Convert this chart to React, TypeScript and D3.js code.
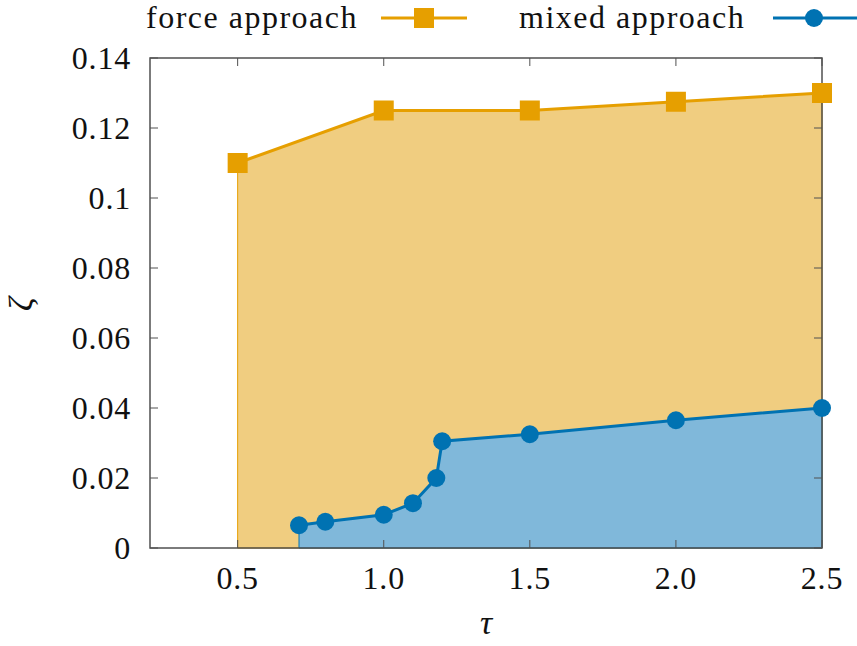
import React from "react";
import * as d3 from "d3";

const forceTau = [0.5, 1.0, 1.5, 2.0, 2.5];
const forceZeta = [0.11, 0.125, 0.125, 0.1275, 0.13];
const mixedTau = [0.71, 0.8, 1.0, 1.1, 1.18, 1.2, 1.5, 2.0, 2.5];
const mixedZeta = [0.0065, 0.0075, 0.0095, 0.0128, 0.02, 0.0305, 0.0325, 0.0365, 0.04];
const xTicks = [0.5, 1.0, 1.5, 2.0, 2.5];
const xTickLabels = ["0.5", "1.0", "1.5", "2.0", "2.5"];
const yTicks = [0, 0.02, 0.04, 0.06, 0.08, 0.1, 0.12, 0.14];
const yTickLabels = ["0", "0.02", "0.04", "0.06", "0.08", "0.1", "0.12", "0.14"];
const seriesNames = ["force approach", "mixed approach"];

const W = 857, H = 646;
const L = 150, R = 822, T = 58, B = 548;
const FONT = "'Liberation Serif', 'DejaVu Serif', serif";
const ORANGE = "#e69f00", ORANGE_FILL = "#f0cd80";
const BLUE = "#0072b2", BLUE_FILL = "#80b8da";

export default function App() {
  const x = d3.scaleLinear().domain([0.2, 2.5]).range([L, R]);
  const y = d3.scaleLinear().domain([0, 0.14]).range([B, T]);
  const force = forceTau.map((t, i) => [t, forceZeta[i]] as [number, number]);
  const mixed = mixedTau.map((t, i) => [t, mixedZeta[i]] as [number, number]);
  const area = d3.area<[number, number]>().x(d => x(d[0])).y0(y(0)).y1(d => y(d[1]));
  const line = d3.line<[number, number]>().x(d => x(d[0])).y(d => y(d[1]));
  const sq = 20, cr = 9;
  return (
    <svg width={W} height={H} style={{ position: "absolute", left: 0, top: 0 }} fontFamily={FONT}>
      <rect width={W} height={H} fill="#fff" />
      <path d={area(force) || ""} fill={ORANGE_FILL} stroke={ORANGE} strokeWidth={1} />
      <path d={area(mixed) || ""} fill={BLUE_FILL} stroke={BLUE} strokeWidth={1} />
      <rect x={L} y={T} width={R - L} height={B - T} fill="none" stroke="#505050" strokeWidth={1.5} />
      {yTicks.map((v, i) => (
        <g key={"y" + i}>
          <line x1={L} x2={L + 8} y1={y(v)} y2={y(v)} stroke="#505050" strokeWidth={1} />
          <line x1={R} x2={R - 8} y1={y(v)} y2={y(v)} stroke="#505050" strokeWidth={1} />
          <text x={131} y={y(v)} dy="0.35em" textAnchor="end" fontSize={32} letterSpacing={0.8} fill="#111">{yTickLabels[i]}</text>
        </g>
      ))}
      {xTicks.map((v, i) => (
        <g key={"x" + i}>
          <line x1={x(v)} x2={x(v)} y1={B} y2={B - 8} stroke="#505050" strokeWidth={1} />
          <line x1={x(v)} x2={x(v)} y1={T} y2={T + 8} stroke="#505050" strokeWidth={1} />
          <text x={x(v)} y={589} textAnchor="middle" fontSize={32} letterSpacing={0.8} fill="#111">{xTickLabels[i]}</text>
        </g>
      ))}
      <path d={line(force) || ""} fill="none" stroke={ORANGE} strokeWidth={3} />
      {force.map((d, i) => (
        <rect key={"f" + i} x={x(d[0]) - sq / 2} y={y(d[1]) - sq / 2} width={sq} height={sq} fill={ORANGE} />
      ))}
      <path d={line(mixed) || ""} fill="none" stroke={BLUE} strokeWidth={3} />
      {mixed.map((d, i) => (
        <circle key={"m" + i} cx={x(d[0])} cy={y(d[1])} r={cr} fill={BLUE} />
      ))}
      <text x={486} y={634} textAnchor="middle" fontSize={34} fontStyle="italic" fill="#111">τ</text>
      <text transform="translate(23,304) rotate(-90)" dy="0.25em" textAnchor="middle" fontSize={34} fontStyle="italic" fill="#111">ζ</text>
      <text x={146} y={28} fontSize={32} letterSpacing={1.5} fill="#111">{seriesNames[0]}</text>
      <line x1={381} x2={467} y1={18} y2={18} stroke={ORANGE} strokeWidth={3} />
      <rect x={424 - sq / 2} y={18 - sq / 2} width={sq} height={sq} fill={ORANGE} />
      <text x={519} y={28} fontSize={32} letterSpacing={1.5} fill="#111">{seriesNames[1]}</text>
      <line x1={773} x2={857} y1={18} y2={18} stroke={BLUE} strokeWidth={3} />
      <circle cx={814} cy={18} r={cr} fill={BLUE} />
    </svg>
  );
}
